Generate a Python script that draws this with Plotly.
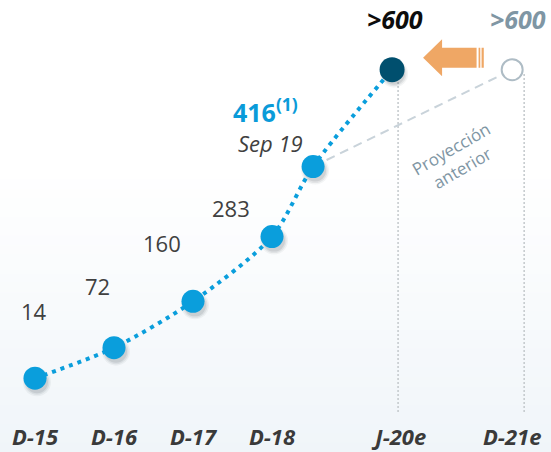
import plotly.graph_objects as go

# ---------------- data ----------------
periods = ["D-15", "D-16", "D-17", "D-18", "Sep 19", "J-20e", "D-21e"]
values = [14, 72, 160, 283, 416, 600, 600]
value_labels = ["14", "72", "160", "283", "416<sup>(1)</sup>", ">600", ">600"]
tick_periods = ["D-15", "D-16", "D-17", "D-18", "J-20e", "D-21e"]
projection_text = "Proyección<br>anterior"
sep_label = "Sep 19"

# ---------------- layout constants ----------------
W, H = 551, 452
MB = 30
PLOT_H = H - MB
PX_U, U0 = 79.0, 35.0          # px per slot, px of slot 0
PX_V, V0 = 0.5265, 385.6       # px per unit, px of value 0
X_SLOT = {"D-15": 0, "D-16": 1, "D-17": 2, "D-18": 3, "Sep 19": 3.52, "J-20e": 4.52, "D-21e": 6.04}
TICK_SLOT = {"D-15": 0, "D-16": 1, "D-17": 2, "D-18": 3, "J-20e": 4.63, "D-21e": 6.04}

xr = [-U0 / PX_U, (W - U0) / PX_U]
yr = [(V0 - PLOT_H) / PX_V, V0 / PX_V]
SH_DX, SH_DY = 2, 4
xr_sh = [xr[0] - SH_DX / PX_U, xr[1] - SH_DX / PX_U]
yr_sh = [yr[0] + SH_DY / PX_V, yr[1] + SH_DY / PX_V]

BLUE = "#0A9EDC"
DARK = "#004F6E"
GREY_TXT = "#404040"
PROJ = "#7F96A4"
FONT = "Open Sans"

xs = [X_SLOT[p] for p in periods]
actual_n = 6  # D-15 .. J-20e

fig = go.Figure()

# shadows (base axes, shifted)
for size, op in [(28, 0.05), (25, 0.08), (22, 0.10)]:
    fig.add_trace(go.Scatter(
        x=xs[:actual_n], y=values[:actual_n], mode="markers",
        marker=dict(size=size, color=f"rgba(40,50,60,{op})", line=dict(width=0)),
        hoverinfo="skip", showlegend=False, xaxis="x", yaxis="y"))

# previous projection dashed line
fig.add_trace(go.Scatter(
    x=[X_SLOT["Sep 19"], X_SLOT["D-21e"]], y=[values[4], values[6]], mode="lines",
    line=dict(color="#C9D3DA", width=2, dash="9px,6px"),
    hoverinfo="skip", showlegend=False, xaxis="x2", yaxis="y2"))

# actual dotted line
fig.add_trace(go.Scatter(
    x=xs[:actual_n], y=values[:actual_n], mode="lines",
    line=dict(color=BLUE, width=4, dash="4px,5px", shape="spline", smoothing=0.8),
    hoverinfo="skip", showlegend=False, xaxis="x2", yaxis="y2"))

# markers
fig.add_trace(go.Scatter(
    x=xs[:5], y=values[:5], mode="markers",
    marker=dict(size=23, color=BLUE, line=dict(width=0)),
    showlegend=False, xaxis="x2", yaxis="y2"))
fig.add_trace(go.Scatter(
    x=[xs[5]], y=[values[5]], mode="markers",
    marker=dict(size=25, color=DARK, line=dict(width=0)),
    showlegend=False, xaxis="x2", yaxis="y2"))
fig.add_trace(go.Scatter(
    x=[xs[6]], y=[values[6]], mode="markers",
    marker=dict(size=21, color="white", line=dict(width=2, color="#AEBCC5")),
    showlegend=False, xaxis="x2", yaxis="y2"))

# ---------------- shapes ----------------
shapes = []
# background gradient (covers the bottom margin too)
N = 30
top_px, bot_px = 170, H
for i in range(N):
    p0 = top_px + (bot_px - top_px) * i / N
    p1 = top_px + (bot_px - top_px) * (i + 1) / N + 0.5
    t = (i + 0.5) / N
    r = round(255 - (255 - 240) * t)
    g = round(255 - (255 - 245) * t)
    b = round(255 - (255 - 249) * t)
    shapes.append(dict(type="rect", xref="paper", yref="paper", x0=0, x1=1,
                       y0=(PLOT_H - p1) / PLOT_H, y1=(PLOT_H - p0) / PLOT_H,
                       fillcolor=f"rgb({r},{g},{b})", line=dict(width=0), layer="below"))
# vertical dotted guides
for p, dx in [("J-20e", 6), ("D-21e", 12)]:
    shapes.append(dict(type="line", xref="x2", yref="y2", xsizemode="pixel",
                       xanchor=X_SLOT[p], x0=dx, x1=dx, y0=values[periods.index(p)] - 8,
                       y1=(V0 - 414) / PX_V,
                       line=dict(color="#C3C8CC", width=1.5, dash="2px,2px"), layer="below"))
# arrow pointing from previous projection to new one
arrow_path = ("M 31,12 L 50,30.5 L 50,22 L 84.5,22 L 84.5,2 L 50,2 L 50,-6.5 Z "
              "M 86.5,22 L 88.2,22 L 88.2,2 L 86.5,2 Z "
              "M 89.5,22 L 91.7,22 L 91.7,2 L 89.5,2 Z")
shapes.append(dict(type="path", xref="x2", yref="y2", xsizemode="pixel", ysizemode="pixel",
                   xanchor=X_SLOT["J-20e"], yanchor=values[5], path=arrow_path,
                   fillcolor="#EFA765", line=dict(width=0)))

# ---------------- annotations ----------------
ann = []
shifts = {
    "D-15": (-1.5, 67), "D-16": (-17, 62), "D-17": (-31, 58), "D-18": (-41, 29),
}
for p, v, lab in zip(periods[:4], values[:4], value_labels[:4]):
    dx, dy = shifts[p]
    ann.append(dict(x=X_SLOT[p], y=v, xref="x2", yref="y2", text=lab, showarrow=False,
                    xshift=dx, yshift=dy, font=dict(family=FONT, size=22, color=GREY_TXT)))
# 416 label
ann.append(dict(x=X_SLOT["Sep 19"], y=values[4], xref="x2", yref="y2", text=value_labels[4],
                showarrow=False, xanchor="left", yanchor="bottom", xshift=-82, yshift=36,
                font=dict(family=FONT, size=25, color="#0A9BD9", weight="bold")))
ann.append(dict(x=X_SLOT["Sep 19"], y=values[4], xref="x2", yref="y2", text=sep_label,
                showarrow=False, yanchor="top", xshift=-43, yshift=41,
                font=dict(family=FONT, size=22, color=GREY_TXT, style="italic")))
# >600 labels
ann.append(dict(x=X_SLOT["J-20e"], y=values[5], xref="x2", yref="y2", text=value_labels[5],
                showarrow=False, xshift=3, yshift=51,
                font=dict(family=FONT, size=25, color="#0D0D0D", weight="bold", style="italic")))
ann.append(dict(x=X_SLOT["D-21e"], y=values[6], xref="x2", yref="y2", text=value_labels[6],
                showarrow=False, xshift=6, yshift=51,
                font=dict(family=FONT, size=25, color=PROJ, weight="bold", style="italic")))
# rotated projection note
ann.append(dict(x=456 / W, y=(PLOT_H - 158) / PLOT_H, xref="paper", yref="paper",
                xanchor="center", yanchor="middle",
                text=projection_text, showarrow=False, textangle=-30,
                font=dict(family=FONT, size=17, color=PROJ)))

fig.update_layout(
    width=W, height=H,
    margin=dict(l=0, r=0, t=0, b=MB),
    paper_bgcolor="white",
    plot_bgcolor="rgba(0,0,0,0)",
    showlegend=False,
    shapes=shapes,
    annotations=ann,
    xaxis=dict(range=xr_sh, visible=False, fixedrange=True, automargin=False),
    yaxis=dict(range=yr_sh, visible=False, fixedrange=True, automargin=False),
    xaxis2=dict(range=xr, overlaying="x", side="bottom", showgrid=False, zeroline=False,
                showline=False, ticks="", automargin=False, fixedrange=True,
                tickvals=[TICK_SLOT[p] for p in tick_periods], ticktext=tick_periods,
                tickfont=dict(family=FONT, size=22, color="#3A3A3A", weight="bold", style="italic")),
    yaxis2=dict(range=yr, overlaying="y", visible=False, fixedrange=True, automargin=False),
)

fig.write_html("out.html")
